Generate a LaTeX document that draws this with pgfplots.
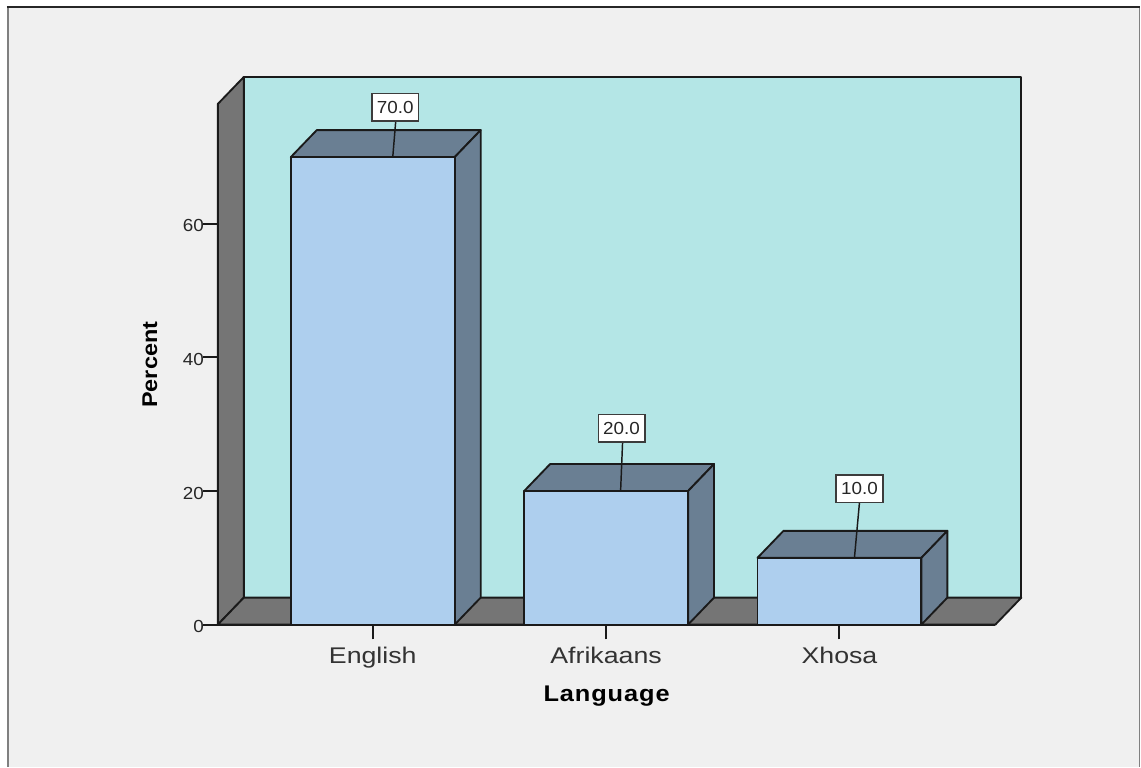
\documentclass[border=0pt]{standalone}
\usepackage{fontspec}
\setmainfont{Liberation Sans}
\newfontfamily\tickfont[FakeStretch=1.08]{Liberation Sans}
\newfontfamily\catfont[FakeStretch=1.18]{Liberation Sans}
\newfontfamily\ylabfont[FakeStretch=1.1]{Liberation Sans Bold}
\newfontfamily\xlabfont[FakeStretch=1.12,LetterSpace=4]{Liberation Sans Bold}
\usepackage{pgfplots}
\pgfplotsset{compat=1.18}
\pgfplotstableread{
x y
0 70
1 20
2 10
}\percentages
\definecolor{panel}{HTML}{F0F0F0}
\definecolor{wall}{HTML}{B4E6E6}
\definecolor{floorgray}{HTML}{757575}
\definecolor{barfront}{HTML}{AECFEE}
\definecolor{barshade}{HTML}{6A7F93}
\definecolor{edge}{HTML}{1A1A1A}
\pgfplotsset{
  face/.style={draw=edge, line width=1.4pt, line join=round},
  valuelabel/.style n args={2}{
    draw=none, mark=none, forget plot,
    nodes near coords={\pgfmathprintnumber[fixed,fixed zerofill,precision=1]{\pgfplotspointmeta}},
    every node near coord/.append style={
      anchor=center, xshift=#1, yshift=#2,
      fill=white, draw=edge!85, line width=1.1pt, inner sep=0pt,
      minimum width=35pt, minimum height=20.5pt,
      font=\fontsize{13.1}{15}\tickfont, text=black!85
    }
  }
}
\begin{document}
\begin{tikzpicture}[x=0.75pt,y=0.75pt]
% page and panel, 1141 by 767 units
\fill[white] (0,0) rectangle (1141,767);
\fill[panel] (8,0) rectangle (1140,760);
\draw[gray, line width=0.9pt] (8,0) -- (8,760);
\draw[gray, line width=0.9pt] (1140,0) -- (1140,760);
\draw[black!85, line width=1.1pt] (7,760) -- (1141,760);
\begin{axis}[
  at={(163.5pt,106.5pt)}, anchor=south west,
  scale only axis, width=583.5pt, height=390.75pt,
  xmin=-0.6638, xmax=2.6681, ymin=0, ymax=77.96,
  clip=false, axis on top,
  axis lines=left, axis line style={-, draw=edge, line width=1.4pt},
  tick align=outside, major tick length=11pt,
  tick style={draw=edge, line width=1.5pt},
  xtick={0,1,2}, xticklabels={English,Afrikaans,Xhosa},
  ytick={0,20,40,60},
  x tick label style={font=\fontsize{17}{20}\catfont, text=black!80, yshift=-2pt},
  y tick label style={font=\fontsize{13.1}{15}\tickfont, text=black!85, xshift=4pt, yshift=-1.5pt},
  /pgf/number format/assume math mode=true,
  xlabel={Language}, ylabel={Percent},
  xlabel style={at={(axis description cs:0.5,-0.137)}, anchor=center, font=\fontsize{17}{18}\xlabfont, text=black},
  ylabel style={at={(axis description cs:-0.0874,0.499)}, anchor=center, font=\fontsize{16}{18}\ylabfont, text=black},
]
% back wall, side wall and floor of the plot box
\addplot[face, fill=wall] coordinates {(-0.5525,4.04) (2.7794,4.04) (2.7794,82) (-0.5525,82)} -- cycle;
\addplot[face, fill=floorgray] coordinates {(-0.6638,0) (-0.5525,4.04) (-0.5525,82) (-0.6638,77.96)} -- cycle;
\addplot[face, fill=floorgray] coordinates {(-0.6638,0) (2.6681,0) (2.7794,4.04) (-0.5525,4.04)} -- cycle;
% top and side faces of the bars
\addplot[face, fill=barshade] coordinates {(-0.3512,70) (0.3512,70) (0.4625,74.04) (-0.2399,74.04)} -- cycle;
\addplot[face, fill=barshade] coordinates {(0.3512,0) (0.4625,4.04) (0.4625,74.04) (0.3512,70)} -- cycle;
\addplot[face, fill=barshade] coordinates {(0.6488,20) (1.3512,20) (1.4625,24.04) (0.7601,24.04)} -- cycle;
\addplot[face, fill=barshade] coordinates {(1.3512,0) (1.4625,4.04) (1.4625,24.04) (1.3512,20)} -- cycle;
\addplot[face, fill=barshade] coordinates {(1.6488,10) (2.3512,10) (2.4625,14.04) (1.7601,14.04)} -- cycle;
\addplot[face, fill=barshade] coordinates {(2.3512,0) (2.4625,4.04) (2.4625,14.04) (2.3512,10)} -- cycle;
% front faces
\addplot[ybar, bar width=123pt, face, fill=barfront] table[x=x,y=y] {\percentages};
% leader lines from each bar to its value box
\addplot[edge, line width=1.1pt] coordinates {(0.0857,70) (0.0985,75.4)};
\addplot[edge, line width=1.1pt] coordinates {(1.0621,20) (1.0707,27.4)};
\addplot[edge, line width=1.1pt] coordinates {(2.0642,10) (2.0857,18.25)};
% value boxes
\addplot[valuelabel={16.9pt}{37.5pt}] coordinates {(0,70)};
\addplot[valuelabel={11.6pt}{47.2pt}] coordinates {(1,20)};
\addplot[valuelabel={15pt}{51.8pt}] coordinates {(2,10)};
\end{axis}
\end{tikzpicture}
\end{document}
